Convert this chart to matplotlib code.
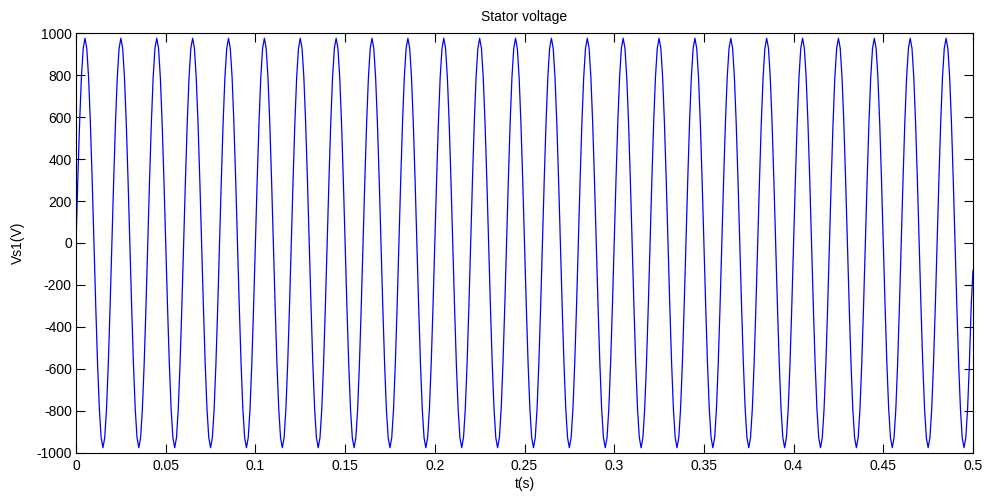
import numpy as np
import matplotlib
matplotlib.use("Agg")
import matplotlib.pyplot as plt

plt.rcParams['font.family'] = ['Liberation Sans', 'DejaVu Sans']

cycle_vs1 = [0, 301, 573, 789, 927, 975, 927, 789, 573, 301,
             0, -301, -573, -789, -927, -975, -927, -789, -573, -301]
n_cycles = 25
dt = 0.001

vs1 = np.array(cycle_vs1 * n_cycles + [-130])
t = np.arange(len(vs1)) * dt

x_ticks = [0, 0.05, 0.1, 0.15, 0.2, 0.25, 0.3, 0.35, 0.4, 0.45, 0.5]
x_labels = ["0", "0.05", "0.1", "0.15", "0.2", "0.25", "0.3", "0.35", "0.4", "0.45", "0.5"]
y_ticks = [-1000, -800, -600, -400, -200, 0, 200, 400, 600, 800, 1000]

fig = plt.figure(figsize=(9.86, 4.98), dpi=100)
ax = fig.add_axes([0.0771, 0.0904, 0.9097, 0.8433])

ax.plot(t, vs1, color="#0000ff", lw=0.9)

ax.set_xlim(0, 0.5)
ax.set_ylim(-1000, 1000)
ax.set_xticks(x_ticks)
ax.set_xticklabels(x_labels)
ax.set_yticks(y_ticks)
ax.set_yticklabels([str(v) for v in y_ticks])

ax.tick_params(axis="both", direction="in", top=True, right=True,
               labelsize=10, width=0.8, length=6.5)
ax.tick_params(axis="x", pad=4)
ax.tick_params(axis="y", pad=3)
for s in ax.spines.values():
    s.set_linewidth(0.8)

ax.set_title("Stator voltage", fontsize=10, pad=9)
ax.set_xlabel("t(s)", fontsize=10, labelpad=3)
ax.set_ylabel("Vs1(V)", fontsize=10, labelpad=8)

fig.savefig("out.png", dpi=100)
